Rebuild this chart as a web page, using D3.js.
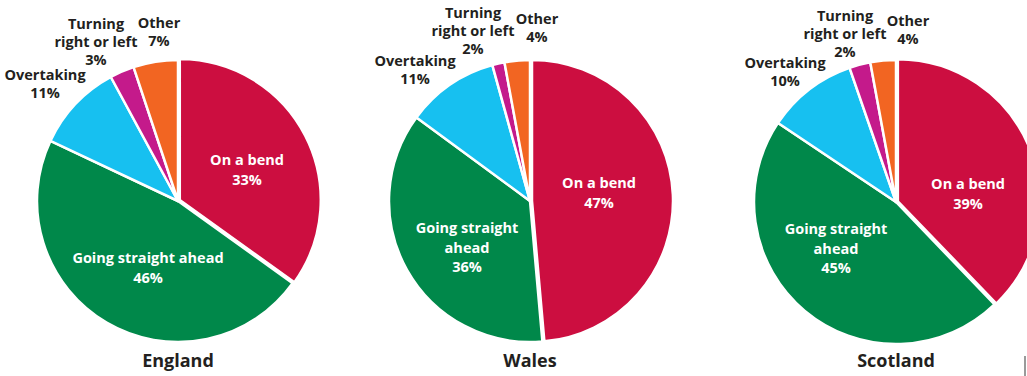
<!DOCTYPE html>
<html><head><meta charset="utf-8">
<script src="https://cdn.jsdelivr.net/npm/d3@7"></script>
<style>
html,body{margin:0;padding:0;background:#fff;}
svg{display:block;}
text{font-family:"Open Sans","Noto Sans",sans-serif;font-weight:700;}
</style></head>
<body>
<svg id="chart" width="1027" height="376"></svg>
<script>
// ---- data ----
const countries = ["England", "Wales", "Scotland"];
const categories = ["On a bend", "Going straight ahead", "Overtaking", "Turning right or left", "Other"];
// printed percentages (as labelled in the chart)
const englandPercents = [33, 46, 11, 3, 7];
const walesPercents = [47, 36, 11, 2, 4];
const scotlandPercents = [39, 45, 10, 2, 4];
// slice shares as drawn
const englandShares = [34.9, 47.1, 10.1, 2.8, 5.1];
const walesShares = [48.6, 36.5, 10.6, 1.4, 2.9];
const scotlandShares = [37.8, 46.6, 10.3, 2.4, 2.9];
const percentLabels = [englandPercents, walesPercents, scotlandPercents];
const sliceShares = [englandShares, walesShares, scotlandShares];
// label text lines per country (wrapping differs by chart)
const englandLabels = [["On a bend"], ["Going straight ahead"], ["Overtaking"], ["Turning", "right or left"], ["Other"]];
const walesLabels = [["On a bend"], ["Going straight", "ahead"], ["Overtaking"], ["Turning", "right or left"], ["Other"]];
const scotlandLabels = [["On a bend"], ["Going straight", "ahead"], ["Overtaking"], ["Turning", "right or left"], ["Other"]];
const labelLines = [englandLabels, walesLabels, scotlandLabels];

// ---- layout / style (kept apart from data) ----
const colors = ["#CC0E40", "#00884A", "#17C0F0", "#C41A8B", "#F26522"];
const insideLabel = [true, true, false, false, false];
const pieCenters = [[178, 201], [530, 201], [896, 202]];
const radii = [141, 141, 142];
// label anchor offsets relative to pie center [dx, dy of first baseline]
const labelOffsets = [
  [[69, -36], [-30, 62], [-133, -121], [-82, -172], [-19, -173]],
  [[69, -13], [-63, 32], [-115, -135], [-57, -183], [7, -177]],
  [[72, -13], [-60, 32], [-111, -134], [-51, -181], [12, -176]]
];
const titleY = 367;
const explode = 2;

const svg = d3.select("#chart");
const pie = d3.pie().sort(null).value(d => d);

countries.forEach((country, ci) => {
  const [cx, cy] = pieCenters[ci];
  const r = radii[ci];
  const g = svg.append("g").attr("transform", `translate(${cx},${cy})`);
  const arc = d3.arc().innerRadius(0).outerRadius(r);
  const arcs = pie(sliceShares[ci]);

  g.selectAll("path").data(arcs).join("path")
    .attr("d", arc)
    .attr("fill", (d, i) => colors[i])
    .attr("stroke", "#fff")
    .attr("stroke-width", 2.5)
    .attr("stroke-linejoin", "round")
    .attr("transform", (d, i) => {
      if (i !== 0) return null;
      const a = (d.startAngle + d.endAngle) / 2;
      return `translate(${Math.sin(a) * explode},${-Math.cos(a) * explode})`;
    });

  arcs.forEach((d, i) => {
    const lines = labelLines[ci][i].concat([percentLabels[ci][i] + "%"]);
    const [dx, dy] = labelOffsets[ci][i];
    const inside = insideLabel[i];
    const t = g.append("text")
      .attr("text-anchor", "middle")
      .attr("fill", inside ? "#fff" : "#231F20")
      .attr("font-size", 14.5)
      .attr("x", dx).attr("y", dy);
    lines.forEach((ln, li) => {
      t.append("tspan").attr("x", dx).attr("y", dy + li * (inside ? 19.5 : 18)).text(ln);
    });
  });

  svg.append("text")
    .attr("x", cx).attr("y", titleY)
    .attr("text-anchor", "middle")
    .attr("fill", "#231F20")
    .attr("font-size", 18)
    .text(country);
});

// small grey edge artifact at bottom right
svg.append("rect").attr("x", 1024).attr("y", 356).attr("width", 2).attr("height", 20).attr("fill", "#9a9a9a");
</script>
</body></html>
